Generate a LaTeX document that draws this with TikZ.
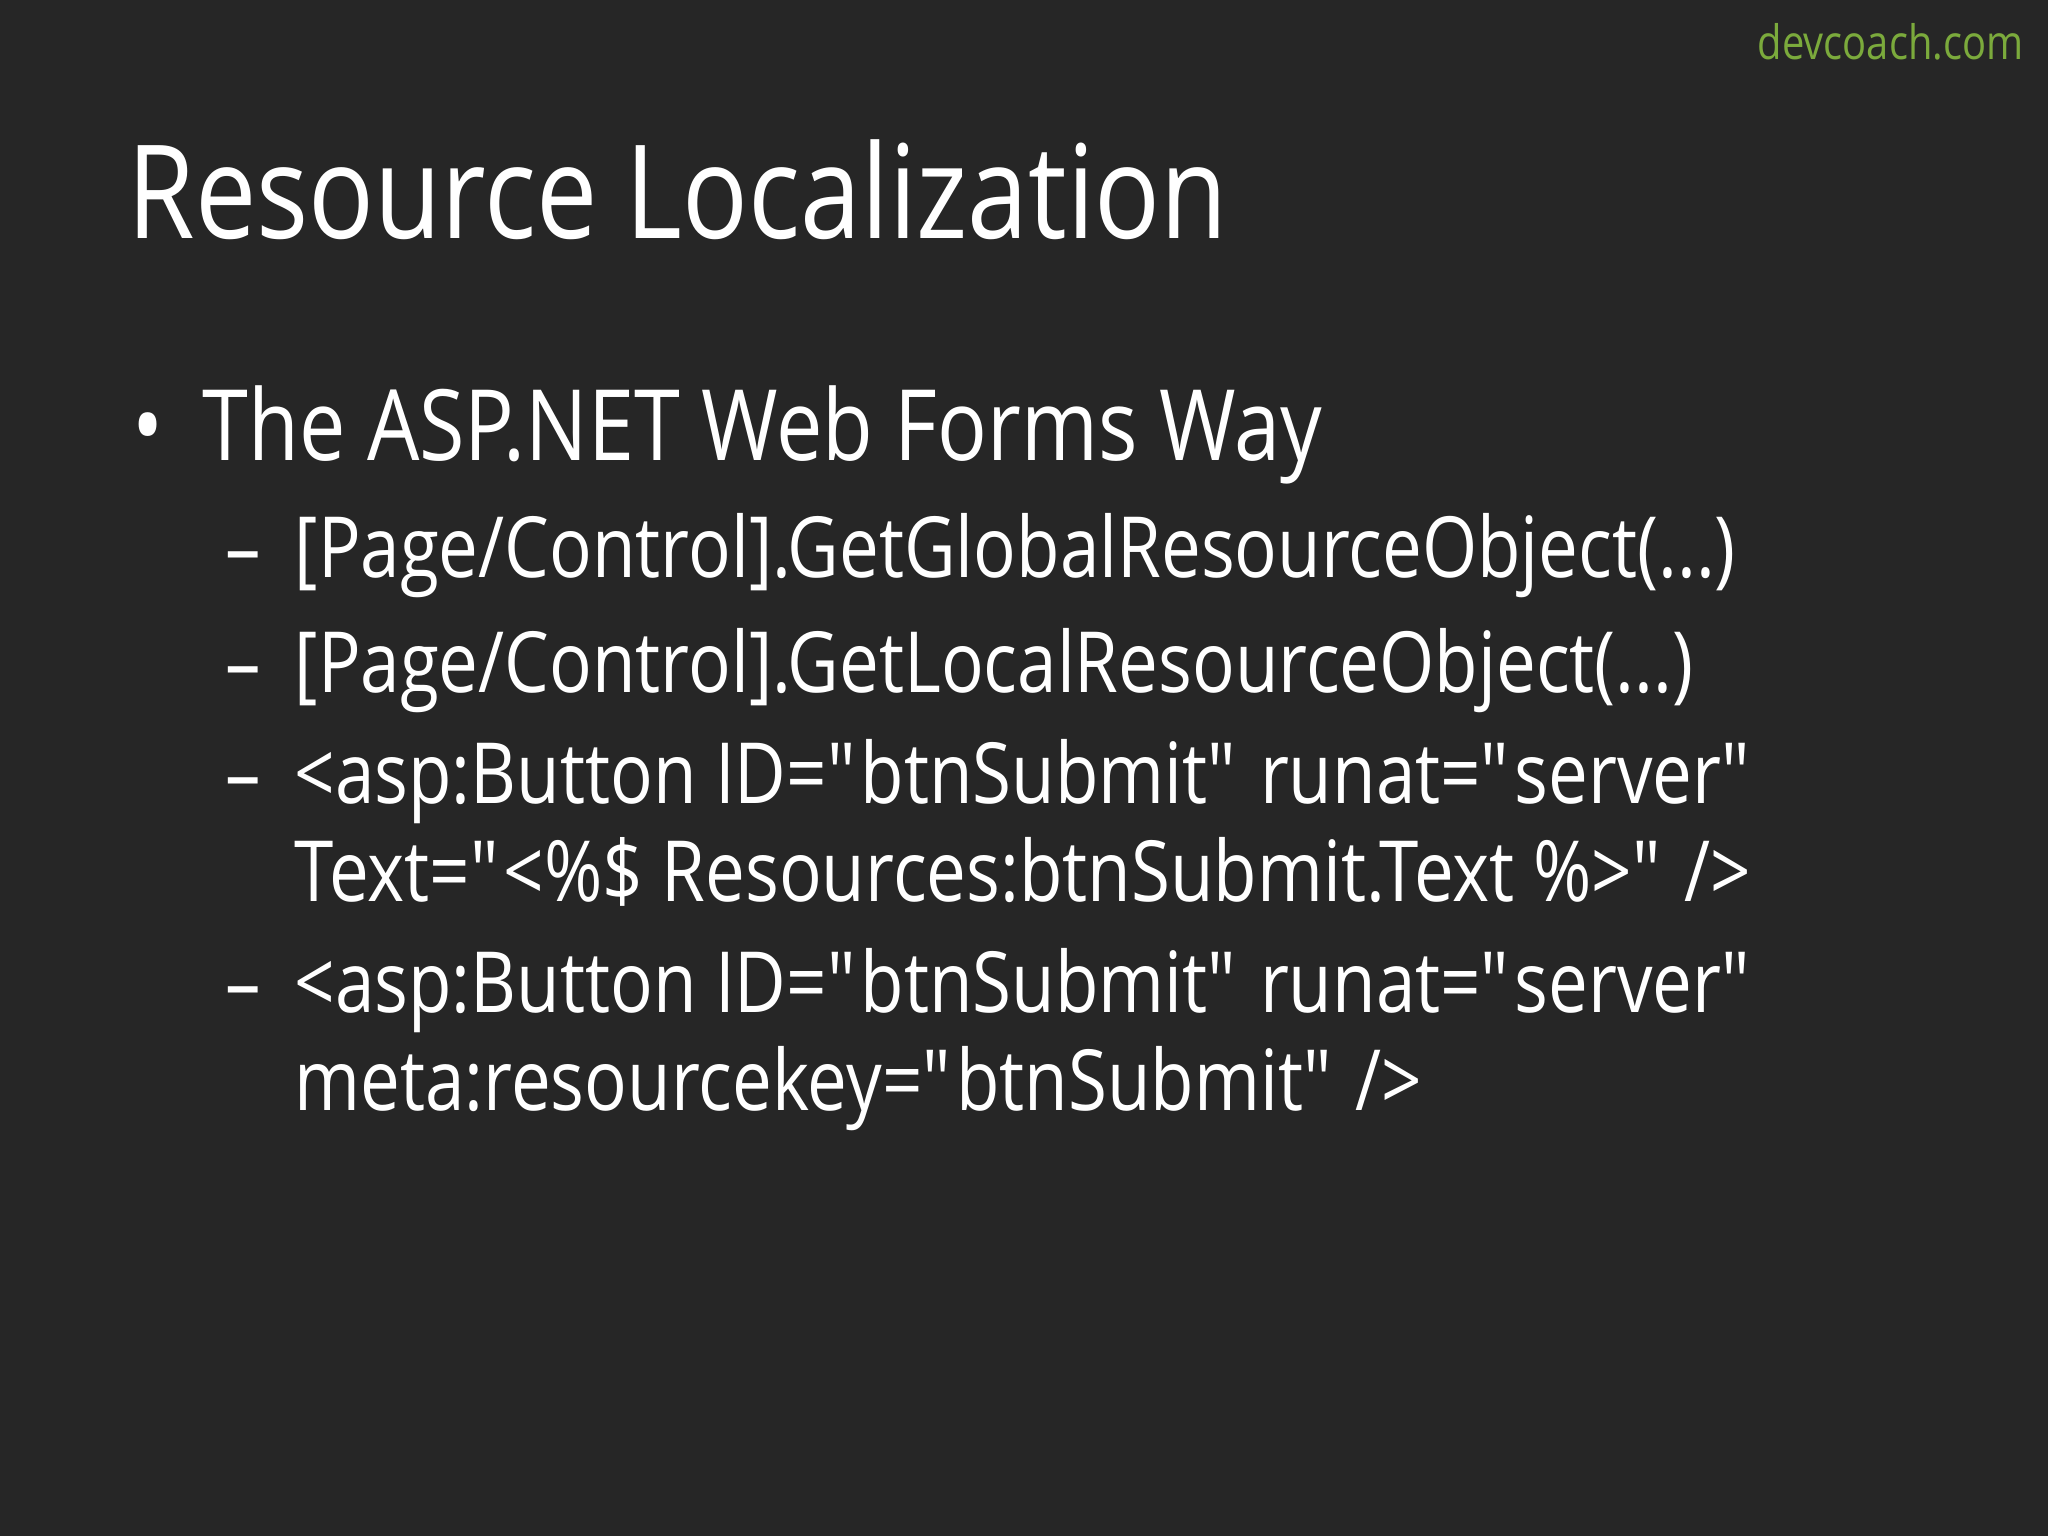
\documentclass[tikz,border=0pt]{standalone}
\usepackage{fontspec}
\setmainfont[FakeStretch=0.84]{Open Sans}
\newfontfamily\brandfont{Open Sans}
\definecolor{bg}{HTML}{262626}
\definecolor{dc}{HTML}{7BAA3C}
\newcommand{\q}{\textquotedbl}
\begin{document}
\begin{tikzpicture}[x=0.01cm,y=-0.01cm,
  txt/.style={anchor=base west,inner sep=0pt,text=white},
  sub/.style={txt,font=\fontsize{24}{28}\selectfont}]
\fill[bg] (0,0) rectangle (2048,1536);
\useasboundingbox (0,0) rectangle (2048,1536);
\node[anchor=base east,inner sep=0pt,text=dc,font=\fontsize{13.5}{16}\selectfont] (brand) at (2024,59) {devcoach.com};
\node[txt,font=\fontsize{37}{44}\selectfont] (title) at (127,238) {Resource Localization};
\node[txt,font=\fontsize{28}{32}\selectfont] (bul) at (132,460) {•};
\node[txt,font=\fontsize{28}{32}\selectfont] (l1) at (202,460) {The ASP.NET Web Forms Way};
\foreach \y in {577,692,803,1012}{\node[sub] at (225,\y) {–};}
\node[sub] (a) at (294,577) {[Page/Control].GetGlobalResourceObject(...)};
\node[sub] (b) at (294,692) {[Page/Control].GetLocalResourceObject(...)};
\node[sub] (c) at (294,803) {<asp:Button ID=\q btnSubmit\q{} runat=\q server\q};
\node[sub] (c2) at (294,901) {Text=\q<\%\$ Resources:btnSubmit.Text \%>\q{} />};
\node[sub] (d) at (294,1012) {<asp:Button ID=\q btnSubmit\q{} runat=\q server\q};
\node[sub] (d2) at (294,1110) {meta:resourcekey=\q btnSubmit\q{} />};
\end{tikzpicture}
\end{document}
